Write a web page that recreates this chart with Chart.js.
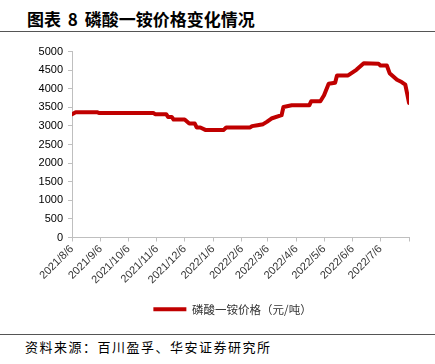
<!DOCTYPE html>
<html>
<head>
<meta charset="utf-8">
<script src="https://cdn.jsdelivr.net/npm/chart.js@4/dist/chart.umd.min.js"></script>
<style>
  body { margin: 0; width: 435px; height: 364px; background: #fff; position: relative; overflow: hidden; }
  .title { position: absolute; left: 27px; top: 6px; font: bold 17px "Noto Sans CJK SC", sans-serif; color: #000; white-space: nowrap; word-spacing: 3px; }
  .rule { position: absolute; left: 0; width: 435px; height: 1px; background: #555; }
  .source { position: absolute; left: 25px; top: 337px; font: 13px "Noto Sans CJK SC", sans-serif; letter-spacing: 1.5px; color: #000; white-space: nowrap; }
  .box { position: absolute; left: 0; top: 40px; width: 435px; height: 285px; }
</style>
</head>
<body>
<div class="title">图表 8 磷酸一铵价格变化情况</div>
<div class="rule" style="top:31px"></div>
<div class="box"><canvas id="priceChart"></canvas></div>
<div class="rule" style="top:334px"></div>
<div class="source">资料来源：百川盈孚、华安证券研究所</div>
<script>
// 数据：日期 / 价格（元/吨）
const dates = [
    '2021-08-06', '2021-08-10', '2021-09-02', '2021-09-04', '2021-11-02', '2021-11-04',
    '2021-11-16', '2021-11-18', '2021-11-22', '2021-11-24', '2021-12-06', '2021-12-11',
    '2021-12-17', '2021-12-19', '2021-12-23', '2021-12-29', '2022-01-17', '2022-01-20',
    '2022-02-15', '2022-02-17', '2022-02-23', '2022-03-01', '2022-03-05', '2022-03-10',
    '2022-03-21', '2022-03-23', '2022-04-01', '2022-04-20', '2022-04-22', '2022-05-02',
    '2022-05-06', '2022-05-11', '2022-05-18', '2022-05-20', '2022-06-01', '2022-06-10',
    '2022-06-18', '2022-07-04', '2022-07-06', '2022-07-13', '2022-07-16', '2022-07-24',
    '2022-07-29', '2022-08-02', '2022-08-04', '2022-08-06'
];
const prices = [
    3316, 3369, 3369, 3350, 3350, 3316,
    3316, 3243, 3243, 3173, 3173, 3066,
    3066, 2960, 2960, 2888, 2888, 2960,
    2960, 2995, 3021, 3048, 3110, 3200,
    3289, 3511, 3556, 3556, 3663, 3663,
    3824, 4136, 4163, 4358, 4358, 4510,
    4688, 4670, 4626, 4626, 4420, 4243,
    4180, 4109, 3868, 3618
];
const tickDates = [
    '2021-08-06', '2021-09-06', '2021-10-06', '2021-11-06', '2021-12-06', '2022-01-06',
    '2022-02-06', '2022-03-06', '2022-04-06', '2022-05-06', '2022-06-06', '2022-07-06', '2022-08-06'
];
const seriesName = '磷酸一铵价格（元/吨）';

const start = Date.UTC(2021, 7, 6);
const dayOf = s => {
    const p = s.split('-').map(Number);
    return Math.round((Date.UTC(p[0], p[1] - 1, p[2]) - start) / 86400000);
};
const tickLabel = s => {
    const p = s.split('-').map(Number);
    return p[0] + '/' + p[1] + '/' + p[2];
};
const tickDays = tickDates.map(dayOf);
const lastDay = tickDays[tickDays.length - 1];

const red = '#C00000';
const axisGray = '#BFBFBF';

// 图例整体右移，和原图居中位置对齐
const legendShift = {
    id: 'legendShift',
    afterLayout: chart => {
        chart.legend.left += 28;
        chart.legend.right += 28;
    }
};

new Chart(document.getElementById('priceChart'), {
    type: 'line',
    data: {
        datasets: [{
            label: seriesName,
            data: dates.map((d, i) => ({ x: dayOf(d), y: prices[i] })),
            borderColor: red,
            backgroundColor: red,
            borderWidth: 4,
            pointRadius: 0,
            tension: 0,
            borderJoinStyle: 'round',
            borderCapStyle: 'round'
        }]
    },
    plugins: [legendShift],
    options: {
        responsive: true,
        maintainAspectRatio: false,
        animation: false,
        layout: { padding: { top: 11, right: 26, bottom: 0, left: 0 } },
        plugins: {
            tooltip: { enabled: false },
            legend: {
                position: 'bottom',
                labels: {
                    boxWidth: 33,
                    boxHeight: 4,
                    color: '#333',
                    padding: 10,
                    font: { family: '"Noto Sans CJK SC", sans-serif', size: 11.5 },
                    generateLabels: chart => Chart.defaults.plugins.legend.labels.generateLabels(chart)
                        .map(l => Object.assign(l, { lineWidth: 0, strokeStyle: 'rgba(0,0,0,0)' }))
                }
            }
        },
        scales: {
            x: {
                type: 'linear',
                min: 0,
                max: lastDay,
                afterBuildTicks: scale => {
                    scale.ticks = tickDays.map(v => ({ value: v }));
                },
                afterFit: scale => { scale.height = 56; },
                ticks: {
                    autoSkip: false,
                    minRotation: 45,
                    maxRotation: 45,
                    color: '#333',
                    padding: 1,
                    font: { family: '"Liberation Sans", Arial, sans-serif', size: 11 },
                    callback: value => {
                        const i = tickDays.indexOf(value);
                        return (i < 0 || i === tickDays.length - 1) ? '' : tickLabel(tickDates[i]);
                    }
                },
                grid: { drawOnChartArea: false, tickLength: 4, color: axisGray },
                border: { color: axisGray }
            },
            y: {
                min: 0,
                max: 5000,
                afterFit: scale => { scale.width = 72; },
                ticks: {
                    stepSize: 500,
                    color: '#000',
                    padding: 5,
                    font: { family: '"Liberation Sans", Arial, sans-serif', size: 11 },
                    callback: v => String(v)
                },
                grid: { drawOnChartArea: false, tickLength: 4, color: axisGray },
                border: { color: axisGray }
            }
        }
    }
});
</script>
</body>
</html>
